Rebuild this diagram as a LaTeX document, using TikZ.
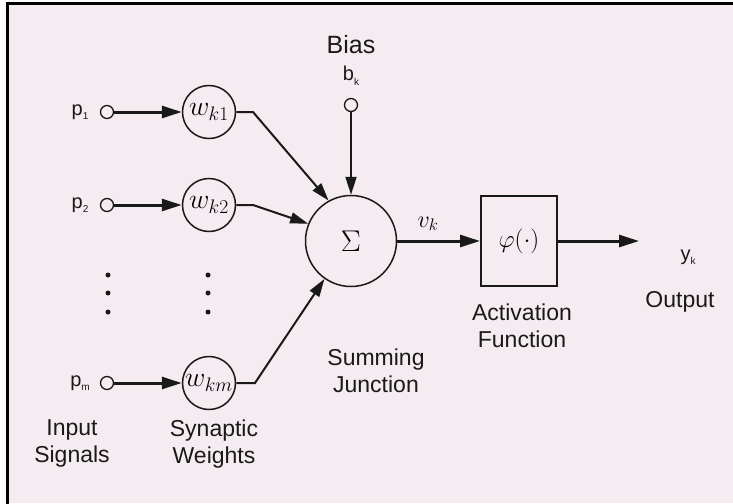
\RequirePackage{fix-cm}
\documentclass[tikz,border=0pt]{standalone}
\usepackage{fontspec}
\setmainfont{Liberation Sans}
\usetikzlibrary{arrows.meta}
\definecolor{bg}{RGB}{245,236,242}
\definecolor{ink}{RGB}{25,25,25}
\newcommand{\lowsub}[1]{\raisebox{-4.5pt}{\fontsize{10}{10}\selectfont #1}}
\begin{document}
\begin{tikzpicture}[x=1pt,y=-1pt,
  lbl/.style={font=\fontsize{23}{27}\selectfont, align=center, inner sep=0pt, text=ink},
  sig/.style={font=\fontsize{20}{22}\selectfont, inner sep=0pt, text=ink},
  term/.style={circle, draw=ink, line width=1.3pt, minimum size=13pt, inner sep=0pt},
  wnode/.style={circle, draw=ink, line width=1.5pt, minimum size=53pt, inner sep=0pt, font=\fontsize{28}{32}\selectfont},
  dotnode/.style={circle, fill=ink, minimum size=5pt, inner sep=0pt},
  thickarr/.style={draw=ink, line width=3pt, -{Triangle[length=20pt,width=12pt]}},
  thinarr/.style={draw=ink, line width=2pt, -{Triangle[length=18pt,width=11pt]}},
]
\useasboundingbox (0,0) rectangle (733,503);
\fill[white] (0,0) rectangle (733,503);
\fill[bg] (7,4) rectangle (733,503);
\draw[line width=3pt, line cap=rect] (7,503) -- (7,4) -- (733,4);

% inputs
\node[sig] (p1) at (80,112) {p\lowsub{1}};
\node[sig] (p2) at (80,205) {p\lowsub{2}};
\node[sig] (pm) at (80,383) {p\lowsub{m}};
\node[term] (i1) at (107,112) {};
\node[term] (i2) at (107,205) {};
\node[term] (im) at (107,383) {};

% weights
\node[wnode] (w1) at (209,112) {$w_{k1}$};
\node[wnode] (w2) at (209,205) {$w_{k2}$};
\node[wnode] (wm) at (209,383) {$w_{km}$};

% dots
\node[dotnode] (da1) at (108,275) {};
\node[dotnode] (da2) at (108,293) {};
\node[dotnode] (da3) at (108,312) {};
\node[dotnode] (db1) at (208,275) {};
\node[dotnode] (db2) at (208,293) {};
\node[dotnode] (db3) at (208,312) {};

% summing junction
\node[circle, draw=ink, line width=1.5pt, minimum size=91pt, inner sep=0pt,
      font=\fontsize{30}{34}\selectfont] (sum) at (351,241) {$\Sigma$};

% bias
\node[lbl, font=\fontsize{25}{28}\selectfont] (bias) at (351,45) {Bias};
\node[sig] (bk) at (351,76) {b\lowsub{k}};
\node[term] (bterm) at (351,105) {};

% activation
\node[draw=ink, line width=2pt, minimum width=76pt, minimum height=90pt, inner sep=0pt,
      font=\fontsize{25}{29}\selectfont] (act) at (519,241) {$\varphi(\cdot)$};
\node[font=\fontsize{24}{28}\selectfont, inner sep=0pt] (vk) at (428,224) {$v_k$};
\coordinate (out) at (639,241);
\node[sig] (yk) at (688,257) {y\lowsub{k}};

% elbows
\coordinate (e1) at (253,112);
\coordinate (e2) at (253,205);
\coordinate (em) at (255,383);

% connectors
\draw[thickarr] (i1) -- (w1);
\draw[thickarr] (i2) -- (w2);
\draw[thickarr] (im) -- (wm);
\draw[thinarr] (w1.east) -- (e1) -- (sum.119);
\draw[thinarr] (w2.east) -- (e2) -- (sum.158);
\draw[thinarr] (wm.east) -- (em) -- (sum.235);
\draw[thinarr] (bterm) -- (sum);
\draw[thickarr] (sum) -- (act);
\draw[thickarr] (act) -- (out);

% labels
\node[lbl] (insig) at (72,443) {Input\\Signals};
\node[lbl] (synw) at (214,444) {Synaptic\\Weights};
\node[lbl] (sumj) at (376,371) {Summing\\Junction};
\node[lbl] (actf) at (522,326) {Activation\\Function};
\node[lbl] (outl) at (680,302) {Output};
\end{tikzpicture}
\end{document}
